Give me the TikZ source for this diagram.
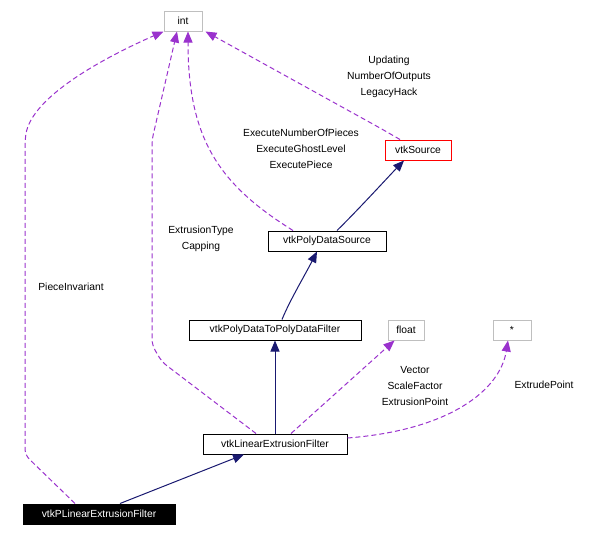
\documentclass[tikz,border=0pt]{standalone}
\usepackage{fontspec}
\setmainfont{Liberation Sans}
\usetikzlibrary{arrows.meta, positioning}
\definecolor{inhblue}{HTML}{191970}
\definecolor{usepurple}{HTML}{9A32CD}
\definecolor{boxgray}{HTML}{BFBFBF}

\begin{document}
\begin{tikzpicture}[x=1pt,y=-1pt,on grid,font=\fontsize{10.3}{16}\selectfont]
    \tikzstyle{cls}=[shape=rectangle,draw=black,line width=1pt,minimum height=20pt,inner sep=0pt]
    \tikzstyle{basic}=[cls,draw=boxgray]
    \tikzstyle{lbl}=[align=center,inner sep=0pt]
    \tikzstyle{inh}=[draw=inhblue,line width=1pt,-{Triangle[length=11pt,width=9pt]}]
    \tikzstyle{use}=[draw=usepurple,line width=1pt,dash pattern=on 5pt off 3pt,rounded corners=6pt,-{Triangle[length=11pt,width=9pt]}]

    \useasboundingbox (0,0) rectangle (598,536);

    \node[basic,minimum width=38pt] (int) at (183,21) {int};
    \node[cls,draw=red,minimum width=66pt] (src) at (418,150) {vtkSource};
    \node[cls,minimum width=118pt] (pds) at (327,241) {vtkPolyDataSource};
    \node[cls,minimum width=172pt] (pdf) at (275,330) {vtkPolyDataToPolyDataFilter};
    \node[basic,minimum width=36pt,right=131pt of pdf] (flt) {float};
    \node[basic,minimum width=38pt,right=106pt of flt] (ptr) {*};
    \node[cls,minimum width=144pt,below=114pt of pdf] (lef) {vtkLinearExtrusionFilter};
    \node[cls,fill=black,text=white,minimum width=152pt] (plef) at (99,514) {vtkPLinearExtrusionFilter};

    \node[lbl] (lbsrc) at (389,77) {Updating\\NumberOfOutputs\\LegacyHack};
    \node[lbl] (lbpds) at (301,149) {ExecuteNumberOfPieces\\ExecuteGhostLevel\\ExecutePiece};
    \node[lbl] (lbtype) at (201,239) {ExtrusionType\\Capping};
    \node[lbl] (lbpiece) at (71,287) {PieceInvariant};
    \node[lbl] (lbvec) at (415,386) {Vector\\ScaleFactor\\ExtrusionPoint};
    \node[lbl] (lbpt) at (544,385) {ExtrudePoint};

    % inheritance
    \path
    ([xshift=21pt]plef.north) edge[inh] ([xshift=-31pt]lef.south)
    (lef.north) edge[inh] (pdf.south)
    ;
    \draw[inh] ([xshift=7pt]pdf.north) .. controls (290,300) and (305,275) .. ([xshift=-10pt]pds.south);
    \draw[inh] ([xshift=10pt]pds.north) .. controls (357,211) and (390,175) .. ([xshift=-14pt]src.south);

    % usage
    \draw[use] ([xshift=-24pt]plef.north) -- (25,455) -- (25,140) .. controls (32,95) and (110,55) .. (int.south west);
    \draw[use] ([xshift=-19pt]lef.north) -- (162,362) -- (152,345) -- (152,140) -- ([xshift=-6pt]int.south);
    \draw[use] ([xshift=-34pt]pds.north) .. controls (220,185) and (188,140) .. ([xshift=5pt]int.south);
    \draw[use] ([xshift=-18pt]src.north) -- (380,128) -- ([xshift=3pt]int.south east);
    \draw[use] ([xshift=16pt]lef.north) -- ([xshift=7pt]flt.south west);
    \draw[use] ([yshift=6pt]lef.east) .. controls (450,430) and (500,390) .. ([xshift=-4pt]ptr.south);

\end{tikzpicture}
\end{document}
